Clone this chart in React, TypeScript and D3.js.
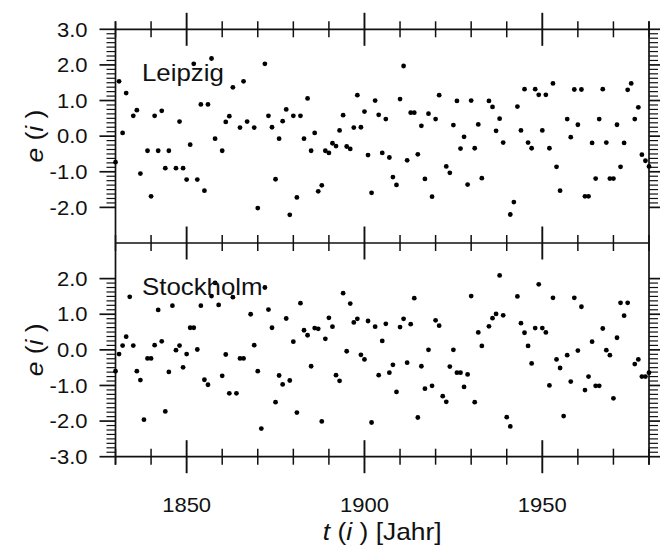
import React from "react";
import * as d3 from "d3";

const leipzigYears = [1830,1831,1832,1833,1835,1836,1837,1839,1840,1841,1842,1843,1844,1845,1847,1848,1849,1850,1851,1852,1853,1854,1855,1856,1857,1858,1860,1861,1862,1863,1865,1866,1867,1869,1870,1872,1873,1874,1875,1876,1877,1878,1879,1880,1881,1882,1883,1884,1885,1886,1887,1888,1889,1890,1891,1892,1893,1894,1895,1896,1897,1898,1899,1900,1901,1902,1903,1904,1905,1906,1907,1908,1909,1910,1911,1912,1913,1914,1915,1916,1917,1918,1919,1920,1921,1923,1924,1925,1926,1927,1928,1929,1930,1931,1932,1933,1935,1936,1937,1938,1939,1941,1942,1943,1944,1945,1946,1947,1948,1949,1950,1951,1952,1953,1954,1955,1957,1958,1959,1960,1961,1962,1963,1964,1965,1966,1967,1968,1969,1970,1971,1972,1973,1974,1975,1976,1977,1978,1979,1980];
const leipzigValues = [-0.73,1.54,0.09,1.21,0.57,0.73,-1.05,-0.41,-1.69,0.57,-0.41,0.71,-0.9,-0.41,-0.9,0.41,-0.9,-1.22,-0.24,2.03,-1.22,0.89,-1.53,0.89,2.18,-0.07,-0.41,0.4,0.56,1.37,0.24,1.54,0.41,0.24,-2.02,2.03,0.57,0.25,-1.21,-0.07,0.42,0.75,-2.21,0.57,-1.72,0.57,-0.07,1.06,-0.41,0.09,-1.55,-1.38,-0.41,-0.47,-0.2,-0.28,0.16,0.59,-0.29,-0.36,0.24,1.15,0.25,0.69,-0.53,-1.59,1.0,0.6,-0.47,0.48,-0.6,-1.15,-1.37,1.04,1.97,-0.68,0.66,0.66,-0.51,0.29,-1.2,0.63,-1.7,0.48,1.15,-0.85,-1.03,0.31,0.99,-0.35,-0.02,-1.36,1.0,-0.34,0.33,-1.18,0.99,0.82,0.15,0.49,-0.18,-2.2,-1.85,0.83,0.16,1.32,-0.18,-0.34,1.32,1.16,0.16,1.16,-0.34,1.48,-0.86,-1.53,0.48,-0.03,1.31,0.32,1.31,-1.69,-1.69,-0.19,-1.19,0.48,1.32,-0.18,-1.19,-1.19,0.32,-0.86,-0.19,1.3,1.48,0.48,0.81,-0.52,-0.69,-0.85];

const stockholmYears = [1830,1831,1832,1833,1834,1835,1836,1837,1838,1839,1840,1841,1842,1843,1844,1845,1846,1847,1848,1849,1850,1851,1852,1853,1854,1855,1856,1857,1858,1859,1860,1861,1862,1863,1864,1865,1866,1868,1869,1870,1871,1872,1873,1874,1875,1876,1877,1878,1879,1880,1881,1882,1883,1884,1885,1886,1887,1888,1889,1890,1891,1892,1893,1894,1895,1896,1897,1898,1899,1900,1901,1902,1903,1904,1905,1906,1907,1908,1909,1910,1911,1912,1913,1914,1915,1916,1917,1918,1919,1920,1921,1922,1923,1924,1925,1926,1927,1928,1929,1930,1931,1932,1933,1935,1936,1937,1938,1939,1940,1941,1943,1944,1945,1946,1947,1948,1949,1950,1951,1952,1953,1954,1955,1956,1957,1958,1959,1960,1961,1962,1963,1964,1965,1966,1967,1968,1969,1970,1971,1972,1973,1974,1976,1977,1978,1979,1980];
const stockholmValues = [-0.6,-0.12,0.12,0.37,1.49,0.12,-0.6,-0.85,-1.96,-0.24,-0.24,0.13,1.12,0.24,-1.73,-0.62,1.24,-0.01,0.12,-0.49,-0.12,0.62,0.62,0.01,1.24,-0.84,-0.98,1.51,1.88,1.26,-0.73,-0.13,-1.22,1.48,-1.22,-0.24,-0.24,1.0,0.13,-0.6,-2.21,1.75,1.13,0.62,-1.47,-0.72,-0.97,0.88,-0.86,0.23,-1.76,1.31,0.55,0.41,-0.46,0.61,0.59,-2.01,0.31,0.9,0.65,-0.71,-0.87,1.59,-0.04,1.3,0.77,0.87,-0.14,-0.27,0.81,-2.04,0.65,-0.71,0.25,0.73,-0.64,-0.42,-1.18,0.64,0.87,-0.36,0.72,1.45,-1.9,-0.46,-1.09,0.0,-1.01,0.83,0.68,-1.3,-1.46,-0.47,0.0,-0.64,-0.64,-1.04,-0.69,1.51,-1.47,0.49,0.11,0.66,0.89,1.01,2.09,0.97,-1.89,-2.15,1.5,0.75,0.48,0.11,-0.38,0.61,1.84,0.61,0.49,-1.0,1.46,-0.27,-0.51,-1.86,-0.15,-0.89,1.46,-0.02,1.21,-1.13,-0.75,0.23,-1.01,-1.01,0.6,-0.01,-0.15,-1.36,0.34,1.32,0.96,1.32,-0.4,-0.27,-0.75,-0.75,-0.64];

const xTickYears = [1830,1840,1850,1860,1870,1880,1890,1900,1910,1920,1930,1940,1950,1960,1970,1980];
const xLabelYears = [1850, 1900, 1950];
const topYLabels = [3, 2, 1, 0, -1, -2];
const bottomYLabels = [2, 1, 0, -1, -2, -3];
const panelNames = ["Leipzig", "Stockholm"];

const W = 660, H = 546;
const L = 115.5, R = 649;
const T = 29.3, MID = 243, B = 456.7;
const FONT = "'Liberation Sans', Arial, Helvetica, sans-serif";
const SX = 1.1;

export default function App() {
  const x = d3.scaleLinear().domain([1830, 1980]).range([L, R]);
  const yTop = d3.scaleLinear().domain([-3, 3]).range([MID, T]);
  const yBot = d3.scaleLinear().domain([-3, 3]).range([B, MID]);

  const panels = [
    { y: yTop, years: leipzigYears, vals: leipzigValues, labels: topYLabels, minor: [-2, 3], name: panelNames[0] },
    { y: yBot, years: stockholmYears, vals: stockholmValues, labels: bottomYLabels, minor: [-3, 2], name: panelNames[1] },
  ];

  const stroke = "#111";
  const sw = 1.7;

  const hLines = [T, MID, B];
  const minorStep = 0.125;

  return (
    <svg width={W} height={H} style={{ position: "absolute", left: 0, top: 0, background: "#fff" }} fontFamily={FONT}>
      <rect x={0} y={0} width={W} height={H} fill="#fff" />
      <line x1={L} x2={L} y1={T - 8} y2={B + 8} stroke={stroke} strokeWidth={sw} />
      <line x1={R} x2={R} y1={T - 8} y2={B + 8} stroke={stroke} strokeWidth={sw} />
      {hLines.map((hy, i) => (
        <line key={"h" + i} x1={L} x2={R} y1={hy} y2={hy} stroke={stroke} strokeWidth={sw} />
      ))}
      {hLines.map((hy, i) =>
        xTickYears.map((yr) => {
          const major = xLabelYears.includes(yr);
          const len = major ? 16.5 : 8;
          return (
            <line key={`xt${i}-${yr}`} x1={x(yr)} x2={x(yr)} y1={hy - len} y2={hy + len} stroke={stroke} strokeWidth={major ? 1.9 : 1.5} />
          );
        })
      )}
      {panels.map((p, pi) => {
        const n = Math.round((p.minor[1] - p.minor[0]) / minorStep);
        const ticks = d3.range(n + 1).map((k) => p.minor[0] + k * minorStep);
        return (
          <g key={"yt" + pi}>
            {ticks.map((v, k) => {
              const major = Math.abs(v - Math.round(v)) < 1e-6;
              const len = major ? 16 : 9;
              return (
                <g key={k}>
                  <line x1={L - len} x2={L} y1={p.y(v)} y2={p.y(v)} stroke={stroke} strokeWidth={major ? 1.7 : 1.2} />
                  <line x1={R} x2={R + len} y1={p.y(v)} y2={p.y(v)} stroke={stroke} strokeWidth={major ? 1.7 : 1.2} />
                </g>
              );
            })}
            {p.labels.map((v) => (
              <text key={"yl" + v} transform={`translate(${L - 28},${p.y(v)}) scale(${SX},1)`} textAnchor="end" dy="0.36em" fontSize={20} fill="#111">
                {v.toFixed(1)}
              </text>
            ))}
          </g>
        );
      })}
      {panels.map((p, pi) => (
        <g key={"pts" + pi}>
          {p.years.map((yr, i) => (
            <circle key={yr} cx={x(yr)} cy={p.y(p.vals[i])} r={2.4} fill="#000" />
          ))}
        </g>
      ))}
      <text transform={`translate(142,81) scale(${SX},1)`} fontSize={23.5} fill="#111">{panels[0].name}</text>
      <text transform={`translate(142,295) scale(${SX},1)`} fontSize={23.5} fill="#111">{panels[1].name}</text>
      {xLabelYears.map((yr) => (
        <text key={"xl" + yr} transform={`translate(${x(yr)},512) scale(${SX},1)`} textAnchor="middle" fontSize={20} fill="#111">
          {yr}
        </text>
      ))}
      <text transform={`translate(${(L + R) / 2},540) scale(${SX},1)`} textAnchor="middle" fontSize={24} fill="#111">
        <tspan fontStyle="italic">t</tspan> (<tspan fontStyle="italic">i</tspan> ) [Jahr]
      </text>
      {[yTop, yBot].map((sc, i) => (
        <text key={"yti" + i} transform={`translate(43,${sc(0)}) rotate(-90) scale(${SX},1)`} textAnchor="middle" fontSize={24} fill="#111">
          <tspan fontStyle="italic">e</tspan> (<tspan fontStyle="italic">i</tspan> )
        </text>
      ))}
    </svg>
  );
}
